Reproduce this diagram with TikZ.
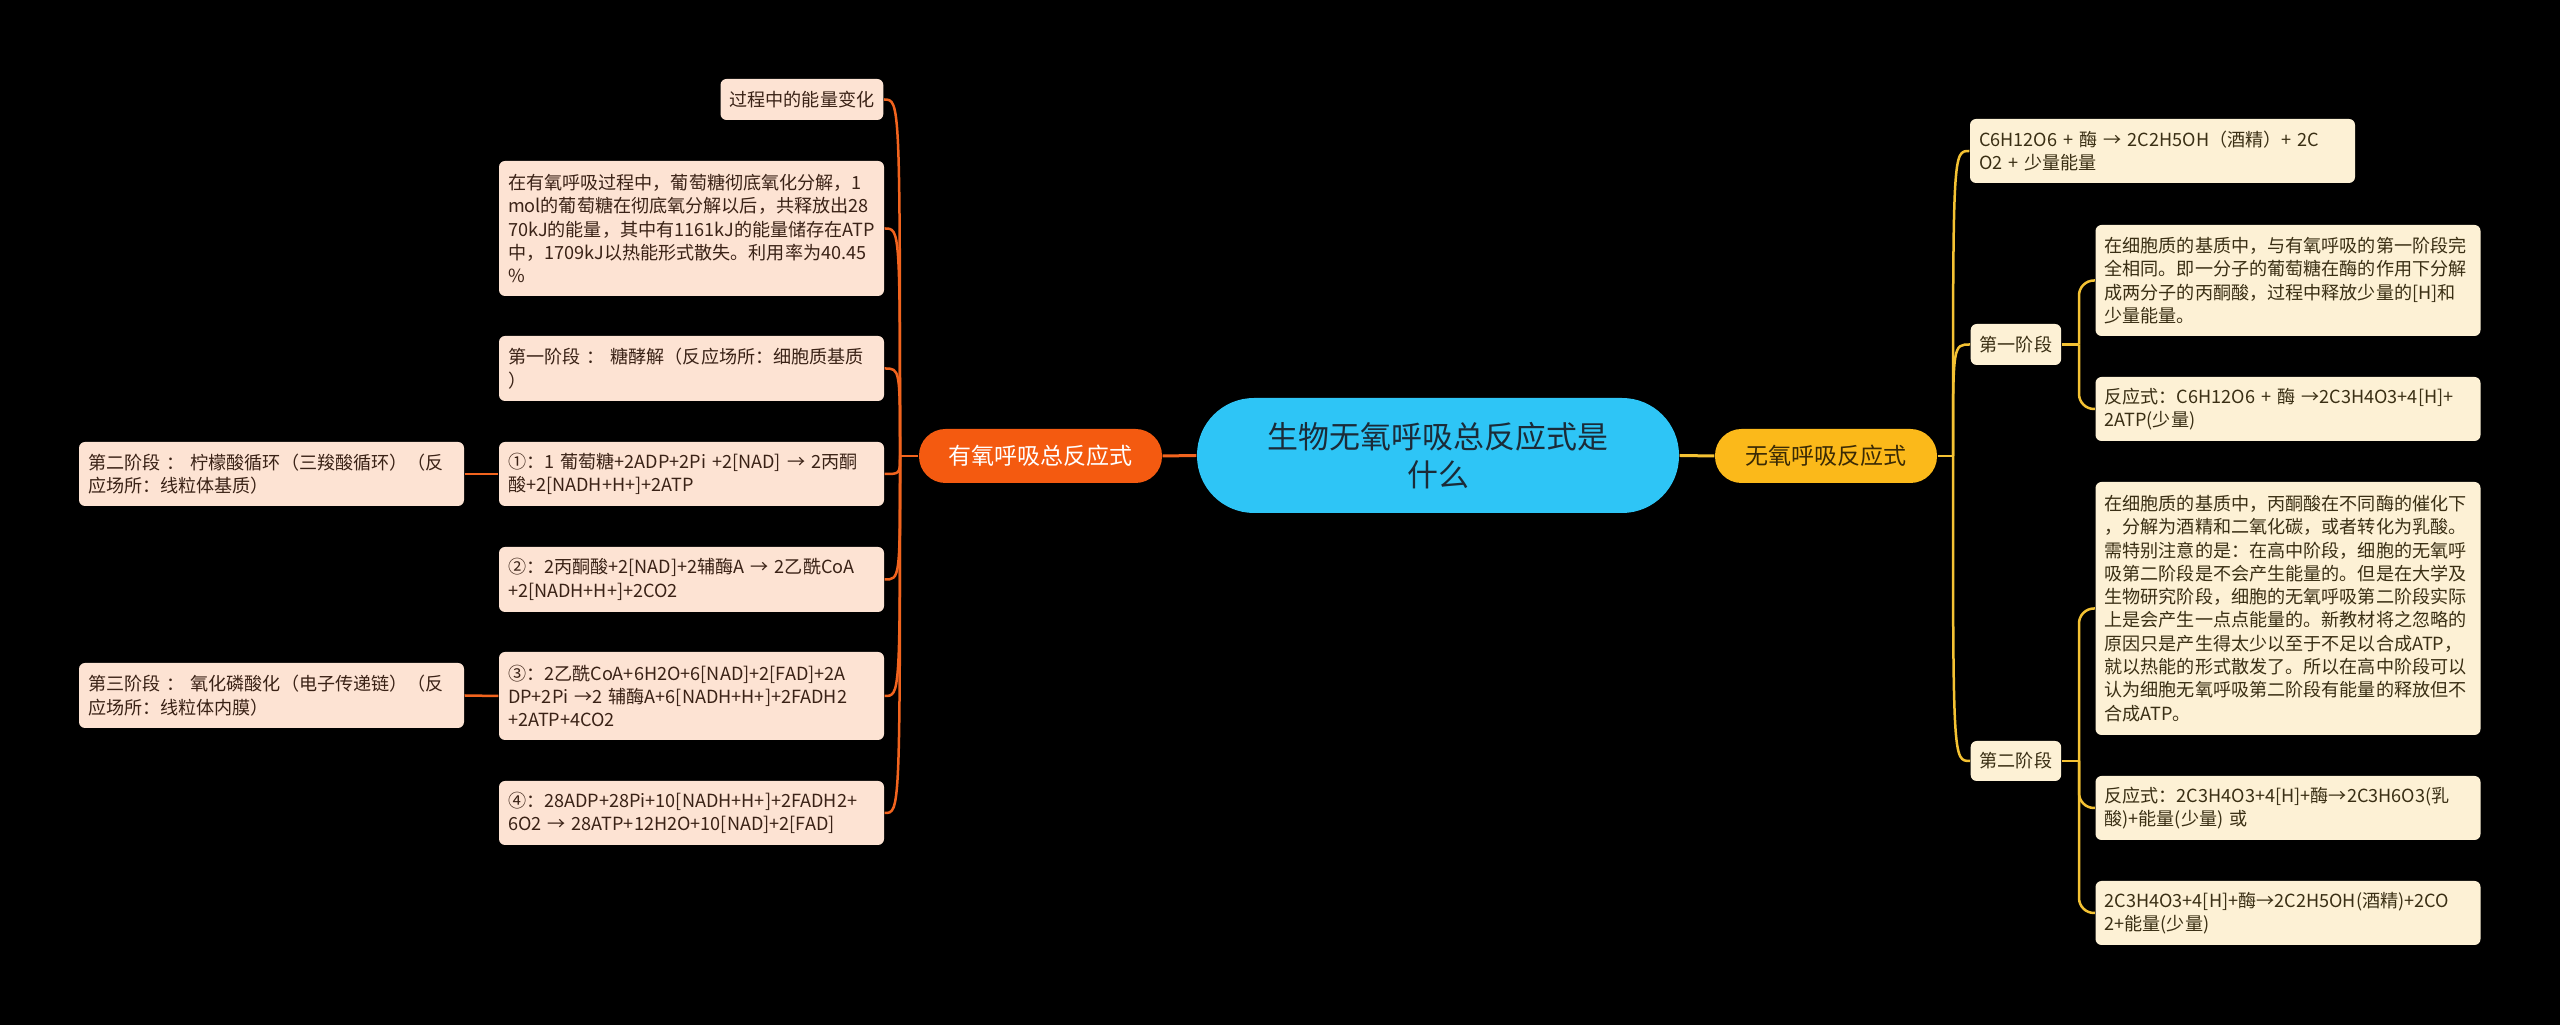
\documentclass[tikz,border=0pt]{standalone}
\usepackage{fontspec}
\setmainfont{Noto Sans CJK SC}
\usepackage{tikz}

\definecolor{rootfill}{HTML}{2EC5F6}
\definecolor{rootink}{HTML}{1B2B38}
\definecolor{aerfill}{HTML}{F45A10}
\definecolor{aerline}{HTML}{F2641E}
\definecolor{aerleaf}{HTML}{FDE3D3}
\definecolor{aerink}{HTML}{3A2216}
\definecolor{anafill}{HTML}{FBB91A}
\definecolor{anaink}{HTML}{3A2A05}
\definecolor{analine}{HTML}{F4C233}
\definecolor{analeaf}{HTML}{FDF1D5}
\definecolor{analeafink}{HTML}{3A2F14}

\begin{document}
\begin{tikzpicture}[
        x=0.1mm, y=-0.1mm,
        root/.style={fill=rootfill, text=rootink, rounded corners=5.7mm, minimum width=48.2mm, minimum height=11.5mm, align=center, font=\fontsize{8.8pt}{10.8pt}\selectfont},
        main/.style={rounded corners=2.65mm, minimum height=5.4mm, align=center, inner ysep=0pt, font=\fontsize{6.55pt}{8pt}\selectfont},
        leaf/.style={rounded corners=0.6mm, align=left, inner xsep=0.9mm, inner ysep=0pt, font=\fontsize{5.15pt}{6.63pt}\selectfont},
        aleaf/.style={leaf, fill=aerleaf, text=aerink},
        nleaf/.style={leaf, fill=analeaf, text=analeafink},
        wide/.style={text width=36.7mm},
        aline/.style={draw=aerline, line width=0.25mm},
        nline/.style={draw=analine, line width=0.25mm}
      ]
      \fill[black] (0,0) rectangle (2560,1025);

      \node[root] (root) at (1438,455.5) {生物无氧呼吸总反应式是\\什么};
      \node[main, fill=aerfill, text=white, minimum width=24.3mm] (aer) at (1040.5,456) {有氧呼吸总反应式};
      \node[main, fill=anafill, text=anaink, minimum width=22.2mm] (ana) at (1826,456) {无氧呼吸反应式};

      \node[aleaf, anchor=east, minimum height=4.1mm] (aenergy) at (884,99.5) {过程中的能量变化};
      \node[aleaf, wide, minimum height=13.5mm] (apara) at (691.5,228.5) {在有氧呼吸过程中，葡萄糖彻底氧化分解，1\\mol的葡萄糖在彻底氧分解以后，共释放出28\\70kJ的能量，其中有1161kJ的能量储存在ATP\\中，1709kJ以热能形式散失。利用率为40.45\\\%};
      \node[aleaf, wide, minimum height=6.5mm] (astage1) at (691.5,368.5) {第一阶段 ： 糖酵解（反应场所：细胞质基质\\）};
      \node[aleaf, wide, minimum height=6.4mm] (astep1) at (691.5,474) {①：1 葡萄糖+2ADP+2Pi +2[NAD] → 2丙酮\\酸+2[NADH+H+]+2ATP};
      \node[aleaf, wide, minimum height=6.5mm] (astep2) at (691.5,579.5) {②：2丙酮酸+2[NAD]+2辅酶A → 2乙酰CoA\\+2[NADH+H+]+2CO2};
      \node[aleaf, wide, minimum height=8.8mm] (astep3) at (691.5,696) {③：2乙酰CoA+6H2O+6[NAD]+2[FAD]+2A\\DP+2Pi →2 辅酶A+6[NADH+H+]+2FADH2\\+2ATP+4CO2};
      \node[aleaf, wide, minimum height=6.4mm] (astep4) at (691.5,813) {④：28ADP+28Pi+10[NADH+H+]+2FADH2+\\6O2 → 28ATP+12H2O+10[NAD]+2[FAD]};
      \node[aleaf, wide, minimum height=6.4mm] (astage2) at (271.5,474) {第二阶段 ： 柠檬酸循环（三羧酸循环）（反\\应场所：线粒体基质）};
      \node[aleaf, wide, minimum height=6.5mm] (astage3) at (271.5,695.5) {第三阶段 ： 氧化磷酸化（电子传递链）（反\\应场所：线粒体内膜）};

      \node[nleaf, wide, minimum height=6.4mm] (nsum) at (2162.5,151) {C6H12O6 + 酶 → 2C2H5OH（酒精）+ 2C\\O2 + 少量能量};
      \node[nleaf, anchor=west, minimum height=4.1mm] (nstage1) at (1970,344.5) {第一阶段};
      \node[nleaf, wide, minimum height=11.1mm] (nstage1a) at (2288,280.5) {在细胞质的基质中，与有氧呼吸的第一阶段完\\全相同。即一分子的葡萄糖在酶的作用下分解\\成两分子的丙酮酸，过程中释放少量的[H]和\\少量能量。};
      \node[nleaf, wide, minimum height=6.4mm] (nstage1b) at (2288,409) {反应式：C6H12O6 + 酶 →2C3H4O3+4[H]+\\2ATP(少量)};
      \node[nleaf, anchor=west, minimum height=4.0mm] (nstage2) at (1970,761) {第二阶段};
      \node[nleaf, wide, minimum height=25.3mm] (nstage2a) at (2288,608.5) {在细胞质的基质中，丙酮酸在不同酶的催化下\\，分解为酒精和二氧化碳，或者转化为乳酸。\\需特别注意的是：在高中阶段，细胞的无氧呼\\吸第二阶段是不会产生能量的。但是在大学及\\生物研究阶段，细胞的无氧呼吸第二阶段实际\\上是会产生一点点能量的。新教材将之忽略的\\原因只是产生得太少以至于不足以合成ATP，\\就以热能的形式散发了。所以在高中阶段可以\\认为细胞无氧呼吸第二阶段有能量的释放但不\\合成ATP。};
      \node[nleaf, wide, minimum height=6.4mm] (nstage2b) at (2288,808) {反应式：2C3H4O3+4[H]+酶→2C3H6O3(乳\\酸)+能量(少量) 或};
      \node[nleaf, wide, minimum height=6.4mm] (nstage2c) at (2288,913) {2C3H4O3+4[H]+酶→2C2H5OH(酒精)+2CO\\2+能量(少量)};

      \coordinate (ahub) at (900,456);
      \coordinate (nhub) at (1953,456);
      \coordinate (nhub1) at (2079,344.5);
      \coordinate (nhub2) at (2079,761);

      \draw[aline, line width=0.3mm] (root.west) -- (aer.east);
      \draw[aline] (aer.west) -- (ahub);
      \foreach \n in {aenergy,apara,astage1,astep1,astep2,astep3,astep4}
        \draw[aline] (ahub) .. controls (ahub |- \n.east) .. (\n.east);
      \draw[aline] (astage2.east) -- (astep1.west);
      \draw[aline] (astage3.east) -- (astep3.west);

      \draw[nline, line width=0.3mm] (root.east) -- (ana.west);
      \draw[nline] (ana.east) -- (nhub);
      \foreach \n in {nsum,nstage1,nstage2}
        \draw[nline] (nhub) .. controls (nhub |- \n.west) .. (\n.west);
      \draw[nline] (nstage1.east) -- (nhub1);
      \foreach \n in {nstage1a,nstage1b}
        \draw[nline, rounded corners=1.5mm] (nhub1) |- (\n.west);
      \draw[nline] (nstage2.east) -- (nhub2);
      \foreach \n in {nstage2a,nstage2b,nstage2c}
        \draw[nline, rounded corners=1.5mm] (nhub2) |- (\n.west);
    \end{tikzpicture}
\end{document}
